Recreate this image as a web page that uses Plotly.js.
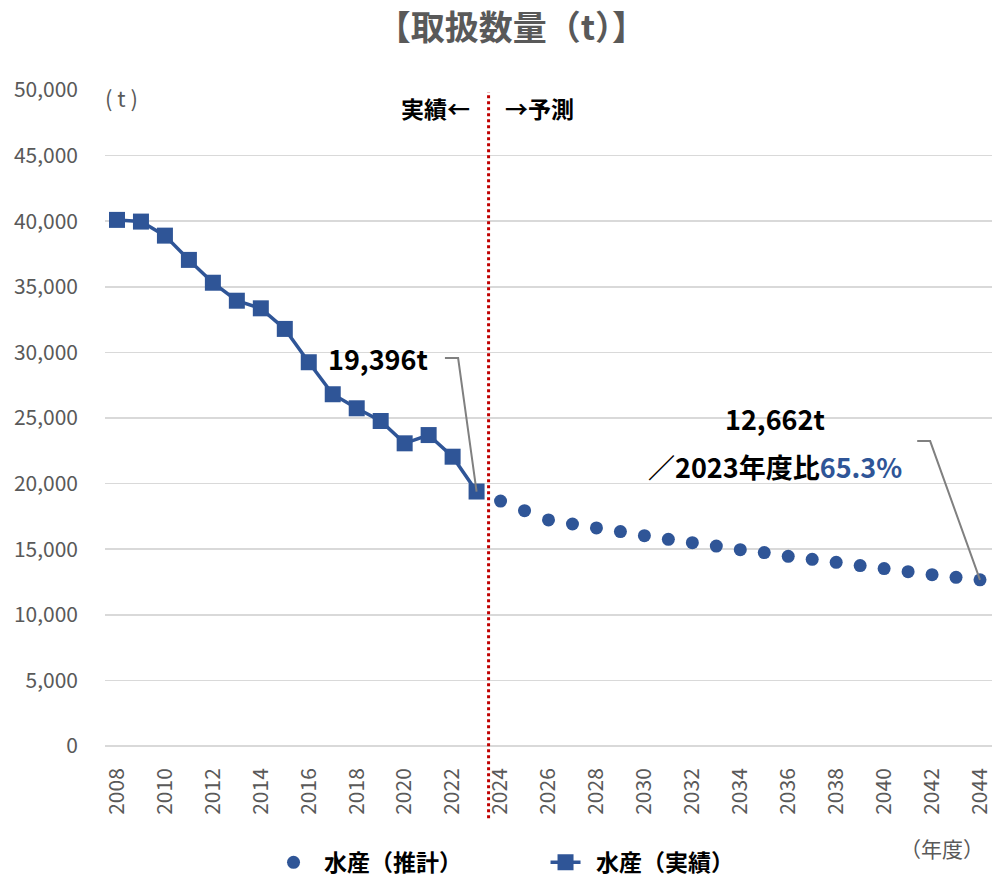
<!DOCTYPE html>
<html>
<head>
<meta charset="utf-8">
<script src="https://cdn.plot.ly/plotly-3.0.1.min.js"></script>
<style>html,body{margin:0;padding:0;background:#fff;}#chart{width:993px;height:880px;}</style>
</head>
<body>
<div id="chart"></div>
<script>
const actualYears = [2008,2009,2010,2011,2012,2013,2014,2015,2016,2017,2018,2019,2020,2021,2022,2023];
const actualValues = [40100,39970,38900,37050,35310,33940,33360,31790,29250,26810,25740,24770,23070,23700,22050,19396];
const forecastYears = [2024,2025,2026,2027,2028,2029,2030,2031,2032,2033,2034,2035,2036,2037,2038,2039,2040,2041,2042,2043,2044];
const forecastValues = [18670,17940,17230,16920,16620,16340,16030,15750,15500,15240,14960,14740,14460,14230,14000,13750,13520,13290,13060,12860,12662];
const seriesNames = ['水産（推計）','水産（実績）'];
const titleText = '【取扱数量（t）】';

const FONT = '"Noto Sans CJK JP", "Noto Sans", sans-serif';
const BLUE = '#2F5597';

const lastActualYear = actualYears[actualYears.length-1];
const lastActual = actualValues[actualValues.length-1];
const lastFcYear = forecastYears[forecastYears.length-1];
const lastFc = forecastValues[forecastValues.length-1];
const ratio = (lastFc/lastActual*100).toFixed(1);

const traces = [
  {x: forecastYears, y: forecastValues, name: '<b>  '+seriesNames[0]+'</b>', mode: 'markers', type: 'scatter',
   marker: {symbol: 'circle', size: 13, color: BLUE}},
  {x: actualYears, y: actualValues, name: '<b>  '+seriesNames[1]+'</b>', mode: 'lines+markers', type: 'scatter',
   line: {color: BLUE, width: 3.5}, marker: {symbol: 'square', size: 16, color: BLUE}}
];

const fmt = v => v.toLocaleString('en-US');

const layout = {
  width: 993, height: 880,
  margin: {l: 105, r: 1, t: 90, b: 134},
  paper_bgcolor: '#fff', plot_bgcolor: '#fff',
  font: {family: FONT, color: '#595959'},
  title: {text: '<b>'+titleText+'</b>', x: 0.515, xanchor: 'center', y: 0.968, yanchor: 'middle',
          font: {family: FONT, size: 34, color: '#595959'}},
  showlegend: true,
  legend: {orientation: 'h', x: 0.19, xanchor: 'left', yref: 'container', y: 0.02, yanchor: 'middle',
           font: {family: FONT, size: 23, color: '#000'}, traceorder: 'normal', entrywidth: 227, entrywidthmode: 'pixels',
           borderwidth: 0, tracegroupgap: 0},
  xaxis: {range: [2007.5, 2044.5], dtick: 2, tick0: 2008, tickangle: -90, showgrid: false, zeroline: false,
          showline: false, ticks: '', automargin: false, ticklabelstandoff: 17, tickfont: {family: FONT, size: 21, color: '#595959'}},
  yaxis: {range: [0, 50000], dtick: 5000, tickformat: ',', gridcolor: '#d9d9d9', gridwidth: 1.5,
          zeroline: true, zerolinecolor: '#d9d9d9', zerolinewidth: 1.5, showline: false, ticks: '', automargin: false,
          ticklabelstandoff: 26, tickfont: {family: FONT, size: 21, color: '#595959'}},
  shapes: [
    {type: 'line', xref: 'x', yref: 'paper', x0: lastActualYear+0.5, x1: lastActualYear+0.5, y0: -0.11, y1: 0.997,
     line: {color: '#C00000', width: 3, dash: 'dot'}},
    {type: 'path', xref: 'x', yref: 'y',
     path: 'M 2021.68 29570 L 2022.23 29570 L '+lastActualYear+' '+lastActual,
     line: {color: '#808080', width: 2}},
    {type: 'path', xref: 'x', yref: 'y',
     path: 'M 2041.38 23240 L 2041.92 23240 L '+lastFcYear+' '+lastFc,
     line: {color: '#808080', width: 2}}
  ],
  annotations: [
    {xref: 'paper', yref: 'paper', x: 0.019, y: 0.989, text: '( t )', showarrow: false, xanchor: 'center', yanchor: 'middle',
     font: {family: FONT, size: 22, color: '#595959'}},
    {xref: 'paper', yref: 'paper', x: 0.944, y: -0.155, text: '（年度）', showarrow: false, xanchor: 'center', yanchor: 'middle',
     font: {family: FONT, size: 21, color: '#595959'}},
    {xref: 'x', yref: 'paper', x: lastActualYear+0.5, y: 0.9726, xshift: -17, text: '<b>実績←</b>', showarrow: false, xanchor: 'right', yanchor: 'middle',
     font: {family: FONT, size: 23, color: '#000'}},
    {xref: 'x', yref: 'paper', x: lastActualYear+0.5, y: 0.9726, xshift: 14, text: '<b>→予測</b>', showarrow: false, xanchor: 'left', yanchor: 'middle',
     font: {family: FONT, size: 23, color: '#000'}},
    {xref: 'x', yref: 'y', x: 2021.06, y: 29570, text: '<b>'+fmt(lastActual)+'t</b>', showarrow: false, xanchor: 'right', yanchor: 'middle',
     font: {family: FONT, size: 27, color: '#000'}},
    {xref: 'x', yref: 'y', x: 2035.45, y: 24990, text: '<b>'+fmt(lastFc)+'t</b>', showarrow: false, xanchor: 'center', yanchor: 'middle',
     font: {family: FONT, size: 27, color: '#000'}},
    {xref: 'x', yref: 'y', x: 2035.45, y: 21340, text: '<b>／'+lastActualYear+'年度比<span style="color:'+BLUE+'">'+ratio+'%</span></b>', showarrow: false, xanchor: 'center', yanchor: 'middle',
     font: {family: FONT, size: 27, color: '#000'}}
  ]
};

Plotly.newPlot('chart', traces, layout, {displayModeBar: false, staticPlot: true});
</script>
</body>
</html>
